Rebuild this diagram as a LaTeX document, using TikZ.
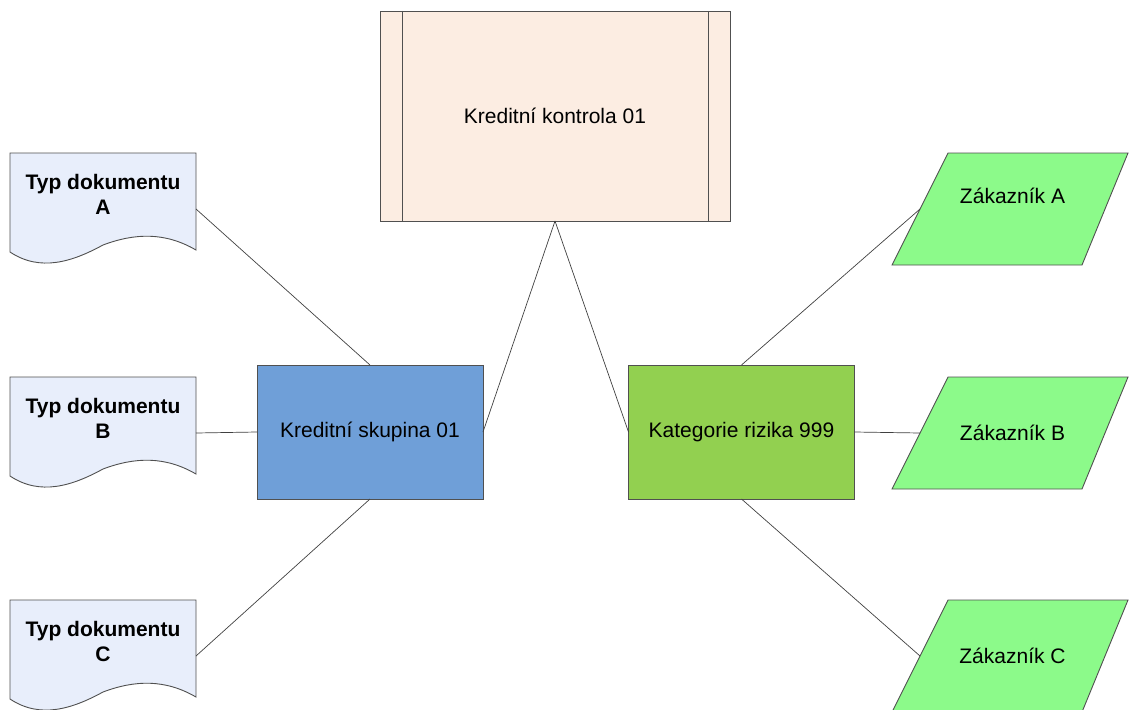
\documentclass[tikz,border=0pt]{standalone}
\usepackage{fontspec}
\setmainfont{Liberation Sans}
\usetikzlibrary{backgrounds}
\definecolor{docfill}{RGB}{232,238,251}
\definecolor{topfill}{RGB}{252,237,226}
\definecolor{skfill}{RGB}{111,159,216}
\definecolor{katfill}{RGB}{146,208,80}
\definecolor{zakfill}{RGB}{140,250,138}
\definecolor{edge}{RGB}{80,80,80}
\tikzset{
  base/.style={draw=none, outer sep=0pt, inner sep=2pt, align=center, font=\fontsize{21}{25}\selectfont},
  docnode/.style={base, minimum width=186pt, minimum height=112pt, font=\fontsize{21}{25}\selectfont\bfseries},
  boxnode/.style={base, draw=edge, line width=0.9pt, minimum width=226pt, minimum height=134pt},
  topnode/.style={base, draw=edge, line width=0.9pt, fill=topfill, minimum width=350pt, minimum height=210pt},
  paranode/.style={base, minimum width=185pt, minimum height=112pt},
  shapeline/.style={draw=edge, line width=0.9pt},
  conn/.style={draw=black!75, line width=0.7pt}
}
\newcommand{\docpath}[1]{%
  \begin{scope}[shift={(#1.center)}]
    \filldraw[shapeline, fill=docfill] (-93,-56) -- (93,-56) -- (93,41)
      .. controls (62,23) and (32,24) .. (0,36)
      .. controls (-31,53) and (-63,63) .. (-93,43) -- cycle;
  \end{scope}}
\newcommand{\parapath}[1]{%
  \begin{scope}[shift={(#1.center)}]
    \filldraw[shapeline, fill=zakfill] (-64.5,-56) -- (115.5,-56) -- (69.5,56) -- (-120.5,56) -- cycle;
  \end{scope}}
\begin{document}
\begin{tikzpicture}[x=1pt,y=-1pt]
\useasboundingbox (0,0) rectangle (1129,709);
% top box
\node[topnode] (top) at (555,116) {Kreditní kontrola 01};
\draw[shapeline] ([xshift=22pt]top.north west) -- ([xshift=22pt]top.south west);
\draw[shapeline] ([xshift=-22pt]top.north east) -- ([xshift=-22pt]top.south east);
% documents
\node[docnode] (docA) at (103,209) {Typ dokumentu\\A\\[-4pt]\strut};
\node[docnode] (docB) at (103,433) {Typ dokumentu\\B\\[-4pt]\strut};
\node[docnode] (docC) at (103,656) {Typ dokumentu\\C\\[-4pt]\strut};
% middle boxes
\node[boxnode, fill=skfill] (sk) at (370,432) {Kreditní skupina 01};
\node[boxnode, fill=katfill] (kat) at (741.5,432) {Kategorie rizika 999};
% parallelograms
\node[paranode] (zA) at (1012.5,209) {\raisebox{5.5pt}[0pt][0pt]{Zákazník A}};
\node[paranode] (zB) at (1012.5,433) {Zákazník B};
\node[paranode] (zC) at (1012.5,656) {Zákazník C};
\begin{scope}[on background layer]
  \docpath{docA}
  \docpath{docB}
  \docpath{docC}
  \parapath{zA}
  \parapath{zB}
  \parapath{zC}
\end{scope}
% connectors
\draw[conn] (docA.east) -- (sk.north);
\draw[conn] (docB.east) -- (sk.west);
\draw[conn] (docC.east) -- (sk.south);
\draw[conn] (sk.east) -- (top.south);
\draw[conn] (top.south) -- (kat.west);
\draw[conn] (kat.north) -- (zA.west);
\draw[conn] (kat.east) -- (zB.west);
\draw[conn] (kat.south) -- (zC.west);
\end{tikzpicture}
\end{document}
